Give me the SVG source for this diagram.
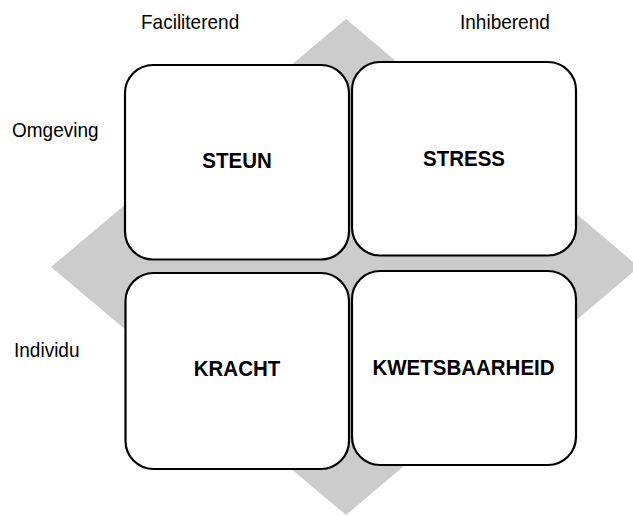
<svg xmlns="http://www.w3.org/2000/svg" width="633" height="516" viewBox="0 0 633 516">
<style>
.box{fill:#fff;stroke:#000;stroke-width:2.2}
.lbl{font-family:"Liberation Sans",Arial,sans-serif;font-size:19px;fill:#000}
.in{font-family:"Liberation Sans",Arial,sans-serif;font-size:20.5px;font-weight:bold;fill:#000;text-anchor:middle}
</style>
<rect width="633" height="516" fill="#fff"/>
<polygon id="diamond" points="346,19 639,267 346,515 51,267" fill="#cccccc"/>
<g id="labels">
<text class="lbl" transform="translate(141,29) scale(1,1.1)">Faciliterend</text>
<text class="lbl" transform="translate(460,29) scale(1,1.1)">Inhiberend</text>
<text class="lbl" transform="translate(12,137) scale(1,1.1)">Omgeving</text>
<text class="lbl" transform="translate(14,357) scale(1,1.1)">Individu</text>
</g>
<g id="steun">
<rect class="box" x="125" y="65" width="224" height="194.5" rx="28" ry="28"/>
<text class="in" transform="translate(237,168) scale(1,1.1)">STEUN</text>
</g>
<g id="stress">
<rect class="box" x="352" y="62" width="224" height="193.5" rx="28" ry="28"/>
<text class="in" transform="translate(464,166) scale(1,1.1)">STRESS</text>
</g>
<g id="kracht">
<rect class="box" x="125.5" y="273" width="223.5" height="196" rx="28" ry="28"/>
<text class="in" transform="translate(237,376) scale(1,1.1)">KRACHT</text>
</g>
<g id="kwetsbaarheid">
<rect class="box" x="352" y="271" width="224" height="194" rx="28" ry="28"/>
<text class="in" transform="translate(463.5,375) scale(1,1.1)">KWETSBAARHEID</text>
</g>
<g id="connectors"></g>
</svg>
